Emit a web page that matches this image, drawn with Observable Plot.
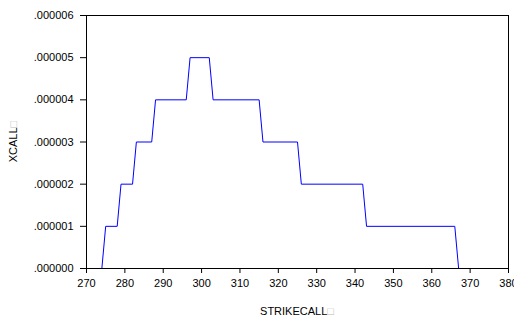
<!DOCTYPE html>
<html>
<head>
<meta charset="utf-8">
<script src="https://cdn.jsdelivr.net/npm/d3@7"></script>
<script src="https://cdn.jsdelivr.net/npm/@observablehq/plot@0.6"></script>
<style>
  html, body { margin: 0; padding: 0; background: #fff; }
  #chart svg { display: block; }
</style>
</head>
<body>
<div id="chart"></div>
<script>
// Breakpoints of the XCALL curve
const strike = [270, 274, 275, 278, 279, 282, 283, 287, 288, 296, 297, 302, 303, 315, 316, 325, 326, 342, 343, 366, 367, 378];
const xcall  = [0, 0, 1e-6, 1e-6, 2e-6, 2e-6, 3e-6, 3e-6, 4e-6, 4e-6, 5e-6, 5e-6, 4e-6, 4e-6, 3e-6, 3e-6, 2e-6, 2e-6, 1e-6, 1e-6, 0, 0];
const xTicks = [270, 280, 290, 300, 310, 320, 330, 340, 350, 360, 370, 380];
const yTicks = [0, 1e-6, 2e-6, 3e-6, 4e-6, 5e-6, 6e-6];
const xTitle = "STRIKECALL";
const yTitle = "XCALL";

const data = strike.map((s, i) => ({strike: s, xcall: xcall[i]}));

const W = 514, H = 323;
const mL = 86, mR = 6, mT = 15, mB = 55;

const svg = Plot.plot({
  width: W,
  height: H,
  marginLeft: mL,
  marginRight: mR,
  marginTop: mT,
  marginBottom: mB,
  style: {fontFamily: "'Liberation Sans', Arial, sans-serif", fontSize: "11px", color: "#000", background: "#fff"},
  x: {domain: [270, 380], ticks: xTicks, tickSize: 5, tickPadding: 6, label: null, tickFormat: d => String(d)},
  y: {domain: [0, 6e-6], ticks: yTicks, tickSize: 6, tickPadding: 7, label: null,
      tickFormat: d => d.toFixed(6).replace(/^0/, "")},
  marks: [
    Plot.line(data, {x: "strike", y: "xcall", stroke: "#0000ff", strokeWidth: 1}),
    Plot.frame({stroke: "#000", strokeWidth: 1})
  ]
});

const s = d3.select(svg);
s.selectAll("[aria-label='x-axis tick'], [aria-label='y-axis tick']").attr("stroke", "#000");
s.selectAll("[aria-label='x-axis tick label'] text, [aria-label='y-axis tick label'] text").attr("fill", "#000");

const cx = mL + (W - mL - mR) / 2;
const cy = mT + (H - mT - mB) / 2;

const tx = s.append("text")
  .attr("x", cx).attr("y", 315)
  .attr("text-anchor", "middle")
  .attr("font-family", "'Liberation Sans', Arial, sans-serif")
  .attr("font-size", 11).attr("fill", "#000");
tx.append("tspan").text(xTitle);
tx.append("tspan").attr("fill", "#bbb").text("\u25A1");

const ty = s.append("text")
  .attr("transform", `translate(17,${cy}) rotate(-90)`)
  .attr("text-anchor", "middle")
  .attr("font-family", "'Liberation Sans', Arial, sans-serif")
  .attr("font-size", 11).attr("fill", "#000");
ty.append("tspan").text(yTitle);
ty.append("tspan").attr("fill", "#bbb").text("\u25A1");

document.getElementById("chart").appendChild(svg);
</script>
</body>
</html>
